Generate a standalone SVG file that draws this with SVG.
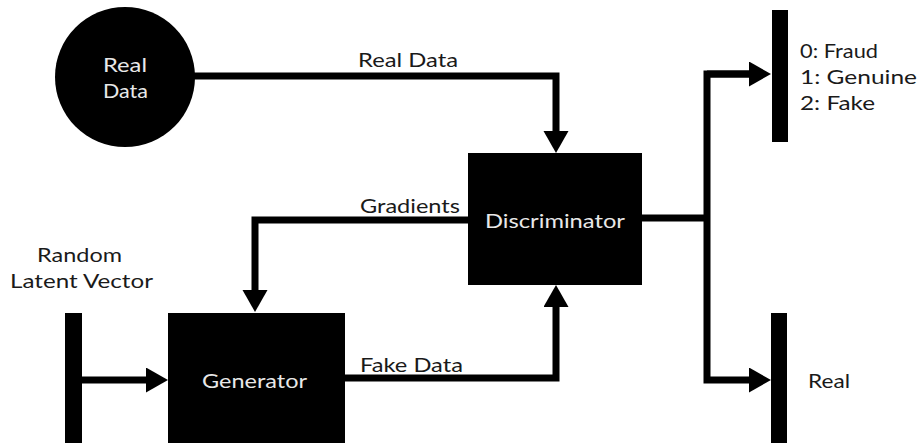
<svg xmlns="http://www.w3.org/2000/svg" width="918" height="443" viewBox="0 0 918 443">
<defs>
<style>
.lbl{font-family:Lato,"Open Sans","Liberation Sans",sans-serif;font-size:19px;fill:#1a1a1a}
.wl{font-family:Lato,"Open Sans","Liberation Sans",sans-serif;font-size:19px;fill:#e8e8e8}
.ln{fill:none;stroke:#000;stroke-width:7}
.nd{fill:#000}
</style>
<marker id="ah" markerUnits="userSpaceOnUse" markerWidth="24" markerHeight="26" refX="0" refY="12.5" orient="auto">
<path d="M0,0 L22,12.5 L0,25 Z" fill="#000"/>
</marker>
</defs>
<g id="connectors">
<path class="ln" d="M190,76 H556 V131" marker-end="url(#ah)"/>
<path class="ln" d="M470,220 H255 V290" marker-end="url(#ah)"/>
<path class="ln" d="M345,378 H556 V307" marker-end="url(#ah)"/>
<path class="ln" d="M82,380 H146" marker-end="url(#ah)"/>
<path class="ln" d="M640,218 H707"/>
<path class="ln" d="M749,74 H707 V380 H749" marker-end="url(#ah)"/>
<path class="ln" d="M707,74 H749" marker-end="url(#ah)"/>
<text class="lbl" x="358" y="67" textLength="100" lengthAdjust="spacingAndGlyphs">Real Data</text>
<text class="lbl" x="360" y="213" textLength="100" lengthAdjust="spacingAndGlyphs">Gradients</text>
<text class="lbl" x="360" y="372" textLength="103" lengthAdjust="spacingAndGlyphs">Fake Data</text>
</g>
<g id="real-data">
<circle class="nd" cx="125" cy="77" r="70"/>
<text class="wl" x="103" y="72" textLength="44" lengthAdjust="spacingAndGlyphs">Real</text>
<text class="wl" x="103" y="98" textLength="45" lengthAdjust="spacingAndGlyphs">Data</text>
</g>
<g id="discriminator">
<rect class="nd" x="468" y="153" width="174" height="132"/>
<text class="wl" x="485" y="228" textLength="140" lengthAdjust="spacingAndGlyphs">Discriminator</text>
</g>
<g id="generator">
<rect class="nd" x="168" y="313" width="177" height="135"/>
<text class="wl" x="202" y="388" textLength="105" lengthAdjust="spacingAndGlyphs">Generator</text>
</g>
<g id="random-latent-vector">
<rect class="nd" x="65" y="313" width="17" height="135"/>
<text class="lbl" x="37" y="262" textLength="85" lengthAdjust="spacingAndGlyphs">Random</text>
<text class="lbl" x="10" y="288" textLength="143" lengthAdjust="spacingAndGlyphs">Latent Vector</text>
</g>
<g id="output-classes">
<rect class="nd" x="772" y="10" width="16" height="132"/>
<text class="lbl" x="800" y="58" textLength="78" lengthAdjust="spacingAndGlyphs">0: Fraud</text>
<text class="lbl" x="800" y="84" textLength="117" lengthAdjust="spacingAndGlyphs">1: Genuine</text>
<text class="lbl" x="800" y="110" textLength="75" lengthAdjust="spacingAndGlyphs">2: Fake</text>
</g>
<g id="output-real">
<rect class="nd" x="771" y="313" width="16" height="135"/>
<text class="lbl" x="808" y="388" textLength="42" lengthAdjust="spacingAndGlyphs">Real</text>
</g>
</svg>
